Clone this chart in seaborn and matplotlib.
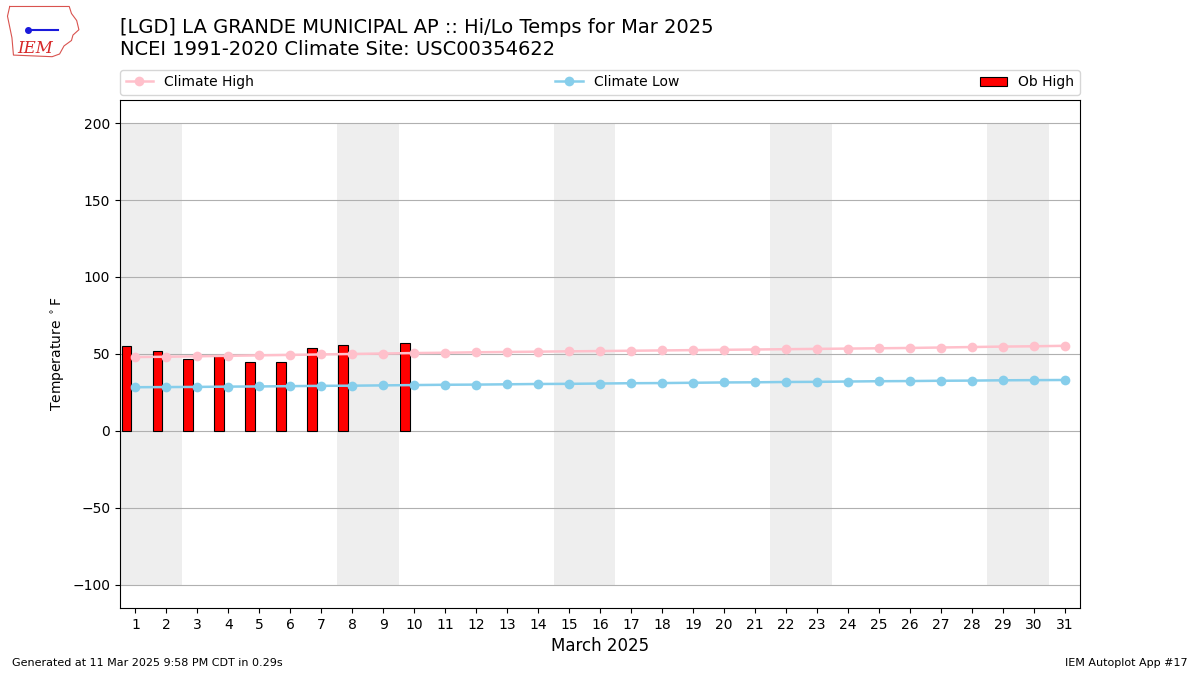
import numpy as np
import pandas as pd
import matplotlib
matplotlib.use("Agg")
import matplotlib.pyplot as plt
import seaborn as sns

# data
days = list(range(1, 32))
clim_high = [48.0, 48.2, 48.5, 48.8, 49.1, 49.4, 49.7, 50.0, 50.3, 50.6, 50.8,
             51.1, 51.3, 51.5, 51.7, 51.9, 52.1, 52.3, 52.5, 52.7, 52.9, 53.1,
             53.3, 53.5, 53.7, 53.9, 54.2, 54.5, 54.8, 55.0, 55.3]
clim_low = [28.4, 28.5, 28.6, 28.8, 28.9, 29.1, 29.3, 29.4, 29.6, 29.8, 30.0,
            30.1, 30.3, 30.5, 30.6, 30.8, 31.0, 31.1, 31.3, 31.5, 31.6, 31.8,
            31.9, 32.1, 32.3, 32.4, 32.6, 32.7, 32.9, 33.0, 33.1]
ob_days = [1, 2, 3, 4, 5, 6, 7, 8, 10]
ob_high = [55, 52, 47, 49, 45, 45, 54, 56, 57]
weekend_days = [1, 2, 8, 9, 15, 16, 22, 23, 29, 30]

df = pd.DataFrame({"day": days, "high": clim_high, "low": clim_low})

fig = plt.figure(figsize=(12, 6.75), dpi=100)
ax = fig.add_axes([0.1, 0.0993, 0.8, 0.7526])

# weekend shading
ax.bar(weekend_days, [300] * len(weekend_days), bottom=-100, width=1.0,
       color="#EEEEEE", zorder=0)

# observed highs
ax.bar(np.array(ob_days) - 0.3, ob_high, width=0.3, color="red",
       edgecolor="k", linewidth=0.8, label="Ob High", zorder=2)

sns.lineplot(data=df, x="day", y="high", ax=ax, color="pink", marker="o",
             markersize=7, markeredgewidth=0, linewidth=1.8,
             label="Climate High", zorder=3)
sns.lineplot(data=df, x="day", y="low", ax=ax, color="skyblue", marker="o",
             markersize=7, markeredgewidth=0, linewidth=1.8,
             label="Climate Low", zorder=3)

ax.set_xlim(0.5, 31.5)
ax.set_ylim(-115, 215)
ax.set_xticks(days)
ax.set_yticks([-100, -50, 0, 50, 100, 150, 200])
ax.yaxis.grid(True, color="#b0b0b0", linewidth=0.8)
ax.set_axisbelow(True)
ax.set_xlabel("March 2025", fontsize=12)
ax.set_ylabel("Temperature $^\\circ$F")

handles, labels = ax.get_legend_handles_labels()
order = [labels.index(k) for k in ["Climate High", "Climate Low", "Ob High"]]
ax.legend([handles[i] for i in order], [labels[i] for i in order],
          loc="lower left", bbox_to_anchor=(0, 1.01, 1, 0.05), mode="expand",
          ncol=3, borderaxespad=0, fontsize=10)

fig.text(0.1, 0.945, "[LGD] LA GRANDE MUNICIPAL AP :: Hi/Lo Temps for Mar 2025",
         fontsize=14, va="bottom")
fig.text(0.1, 0.912, "NCEI 1991-2020 Climate Site: USC00354622",
         fontsize=14, va="bottom")

fig.text(0.01, 0.013, "Generated at 11 Mar 2025 9:58 PM CDT in 0.29s", fontsize=8)
fig.text(0.99, 0.013, "IEM Autoplot App #17", fontsize=8, ha="right")

# small IEM logo stand-in
logo = fig.add_axes([0.005, 0.912, 0.062, 0.08])
logo.axis("off")
logo.set_xlim(0, 1)
logo.set_ylim(0, 1)
ox = [0.05, 0.85, 0.88, 0.95, 0.98, 0.9, 0.88, 0.78, 0.72, 0.62, 0.1, 0.08, 0.02, 0.05]
oy = [0.98, 0.98, 0.85, 0.72, 0.55, 0.45, 0.35, 0.25, 0.1, 0.05, 0.08, 0.4, 0.8, 0.98]
logo.plot(ox, oy, color="#d9534f", linewidth=0.8)
logo.plot([0.3, 0.7], [0.55, 0.55], color="#1a1adb", linewidth=1.5)
logo.plot([0.3], [0.55], "o", color="#1a1adb", markersize=4)
logo.text(0.15, 0.12, "IEM", color="#d62728", fontsize=12, family="DejaVu Serif",
          style="italic")

fig.savefig("out.png", dpi=100)
